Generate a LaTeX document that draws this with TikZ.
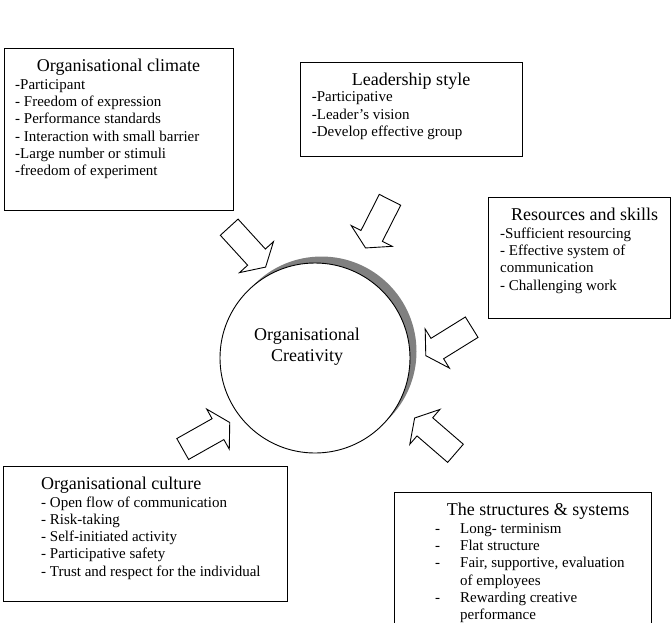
\documentclass[tikz,border=0pt]{standalone}
\usepackage{fontspec}
\setmainfont{Liberation Serif}
\begin{document}
\begin{tikzpicture}[x=1pt,y=-1pt,
  box/.style={draw, line width=0.9pt, fill=white, inner sep=0pt, outer sep=0pt, anchor=north west},
  blockarrow/.style={draw, line width=0.9pt, fill=white, line join=miter},
  itemtxt/.style={inner sep=0pt, anchor=base west, font=\fontsize{15}{17.3}\selectfont},
  titletxt/.style={inner sep=0pt, font=\fontsize{18}{20.7}\selectfont},
  ]
\useasboundingbox (0,0) rectangle (672,622);
\clip (0,0) rectangle (672,622);

% boxes
\node[box, minimum width=229, minimum height=162] (climate) at (4,48) {};
\node[box, minimum width=222, minimum height=94] (leader) at (300,62) {};
\node[box, minimum width=182.5, minimum height=121] (resources) at (488,197) {};
\node[box, minimum width=284, minimum height=135] (culture) at (3,466) {};
\node[box, minimum width=257, minimum height=145] (structures) at (394,492) {};

% box texts
\node[titletxt, anchor=base] (climateT) at (118.5,71.7) {Organisational climate};
\node[itemtxt] (climateI) at (15,89.3) {\begin{tabular}[t]{@{}l@{}}
-Participant\\
- Freedom of expression\\
- Performance standards\\
- Interaction with small barrier\\
-Large number or stimuli\\
-freedom of experiment
\end{tabular}};

\node[titletxt, anchor=base] (leaderT) at (411,85) {Leadership style};
\node[itemtxt] (leaderI) at (311.7,101.7) {\begin{tabular}[t]{@{}l@{}}
-Participative\\
-Leader’s vision\\
-Develop effective group
\end{tabular}};

\node[titletxt, anchor=base west] (resourcesT) at (511,220) {Resources and skills};
\node[itemtxt] (resourcesI) at (500,238.3) {\begin{tabular}[t]{@{}l@{}}
-Sufficient resourcing\\
- Effective system of\\
communication\\
- Challenging work
\end{tabular}};

\node[titletxt, anchor=base west] (cultureT) at (41,489.5) {Organisational culture};
\node[itemtxt] (cultureI) at (41,507) {\begin{tabular}[t]{@{}l@{}}
- Open flow of communication\\
- Risk-taking\\
- Self-initiated activity\\
- Participative safety\\
- Trust and respect for the individual
\end{tabular}};

\node[titletxt, anchor=base west] (structuresT) at (446.7,515.7) {The structures \& systems};
\node[itemtxt] (structuresI) at (435,533.3) {\begin{tabular}[t]{@{}p{25pt}@{}l@{}}
- & Long- terminism\\
- & Flat structure\\
- & Fair, supportive, evaluation\\
  & of employees\\
- & Rewarding creative\\
  & performance
\end{tabular}};

% central circle with shadow
\node[circle, fill=black!50, minimum size=190, inner sep=0pt] (shadow) at (321.5,351.5) {};
\node[circle, draw, line width=0.9pt, fill=white, minimum size=190, inner sep=0pt] (core) at (315,358) {};
\node[titletxt, anchor=base] (coreT) at (307,340.7) {\begin{tabular}[t]{@{}c@{}}
Organisational\\[-0.3pt]
Creativity
\end{tabular}};

% block arrows (tail centres)
\coordinate (a1) at (229.2,227.2);
\coordinate (a2) at (390,199.8);
\coordinate (a3) at (471.7,327.2);
\coordinate (a4) at (182.7,449);
\coordinate (a5) at (455.5,453.3);
\foreach \c/\ang in {a1/-47.6, a2/-116.9, a3/-148.2, a4/29.4, a5/139.2}{
  \draw[blockarrow, shift={(\c)}, rotate=\ang]
    (0,12) -- (40.5,12) -- (40.5,23) -- (54,0) -- (40.5,-23) -- (40.5,-12) -- (0,-12) -- cycle;
}
\end{tikzpicture}
\end{document}
